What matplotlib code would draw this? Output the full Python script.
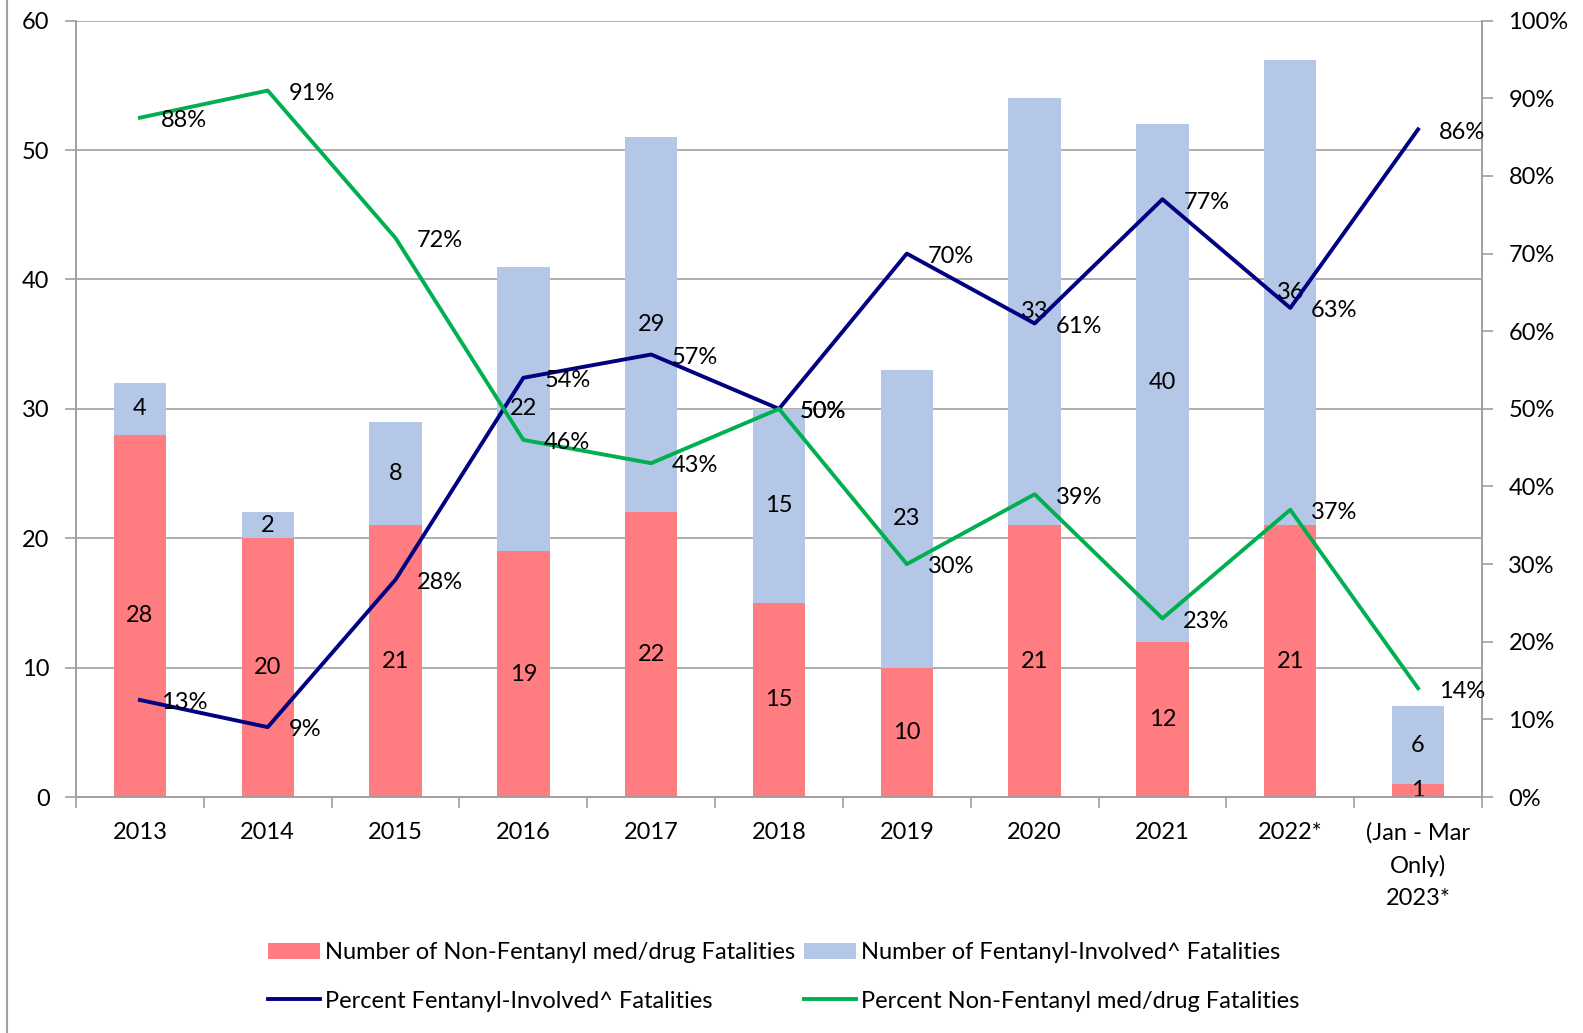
import matplotlib.pyplot as plt
import numpy as np
from matplotlib.lines import Line2D
from matplotlib.ticker import PercentFormatter, MultipleLocator

plt.rcParams['font.family'] = ['Lato', 'DejaVu Sans']

# data
years = ['2013', '2014', '2015', '2016', '2017', '2018', '2019', '2020', '2021', '2022*',
         '(Jan - Mar\nOnly)\n2023*']
non_fent = [28, 20, 21, 19, 22, 15, 10, 21, 12, 21, 1]
fent = [4, 2, 8, 22, 29, 15, 23, 33, 40, 36, 6]
pct_fent = [0.125, 0.09, 0.28, 0.54, 0.57, 0.50, 0.70, 0.61, 0.77, 0.63, 0.86]
pct_non = [0.875, 0.91, 0.72, 0.46, 0.43, 0.50, 0.30, 0.39, 0.23, 0.37, 0.14]
pct_fent_lbl = ['13%', '9%', '28%', '54%', '57%', '50%', '70%', '61%', '77%', '63%', '86%']
pct_non_lbl = ['88%', '91%', '72%', '46%', '43%', '50%', '30%', '39%', '23%', '37%', '14%']

red = '#FF7C80'
blue = '#B4C7E7'
navy = '#000080'
green = '#00B050'
grey = '#A0A0A0'
fs = 17

fig = plt.figure(figsize=(15.83, 10.33), dpi=100)
ax = fig.add_axes([76/1583, 1 - 797/1033, (1482-76)/1583, (797-20.7)/1033])
x = np.arange(len(years))
w = 0.41

b1 = ax.bar(x, non_fent, w, color=red, label='Number of Non-Fentanyl med/drug Fatalities', zorder=2)
b2 = ax.bar(x, fent, w, bottom=non_fent, color=blue,
            label='Number of Fentanyl-Involved^ Fatalities', zorder=2)
for i in range(len(x)):
    ax.text(x[i], non_fent[i] / 2, str(non_fent[i]), ha='center', va='center', fontsize=fs, zorder=5)
    ax.text(x[i], non_fent[i] + fent[i] / 2, str(fent[i]), ha='center', va='center', fontsize=fs, zorder=5)

ax.set_ylim(0, 60)
ax.set_xlim(-0.5, len(x) - 0.5)
ax.yaxis.set_major_locator(MultipleLocator(10))
ax.yaxis.grid(True, color=grey, linewidth=1.2, zorder=0)
ax.set_axisbelow(True)
ax.set_xticks(x)
ax.set_xticklabels(years, fontsize=fs, linespacing=1.65)
ax.set_xticks(np.arange(-0.5, len(x)), minor=True)
ax.tick_params(axis='x', which='major', length=0, pad=18)
ax.tick_params(axis='x', which='minor', length=8, color=grey, width=1.2)
ax.tick_params(axis='y', length=8, color=grey, width=1.2, labelsize=fs, pad=11)
for s in ['left', 'bottom', 'right']:
    ax.spines[s].set_color(grey)
    ax.spines[s].set_linewidth(1.2)
ax.spines['top'].set_visible(False)

ax2 = ax.twinx()
l1, = ax2.plot(x, pct_fent, color=navy, linewidth=2.8, label='Percent Fentanyl-Involved^ Fatalities')
l2, = ax2.plot(x, pct_non, color=green, linewidth=2.8, label='Percent Non-Fentanyl med/drug Fatalities')
for i in range(len(x)):
    ax2.annotate(pct_fent_lbl[i], (x[i], pct_fent[i]), xytext=(15, -2), textcoords='offset points',
                 ha='left', va='center', fontsize=fs)
    ax2.annotate(pct_non_lbl[i], (x[i], pct_non[i]), xytext=(15, -2), textcoords='offset points',
                 ha='left', va='center', fontsize=fs)
ax2.set_ylim(0, 1)
ax2.yaxis.set_major_locator(MultipleLocator(0.1))
ax2.yaxis.set_major_formatter(PercentFormatter(1.0, decimals=0))
ax2.tick_params(axis='y', length=8, color=grey, width=1.2, labelsize=fs, pad=11)
for s in ['left', 'bottom', 'right']:
    ax2.spines[s].set_color(grey)
    ax2.spines[s].set_linewidth(1.2)
ax2.spines['top'].set_visible(False)

fig.legend(handles=[b1, l1, b2, l2], ncol=2, loc='center', bbox_to_anchor=(0.495, 1 - 977/1033),
           frameon=False, fontsize=fs, handlelength=2.2, handletextpad=0.2, columnspacing=0.4,
           labelspacing=1.15)

fig.add_artist(Line2D([7/1583, 7/1583], [0, 1], color=grey, linewidth=1.5))

fig.savefig('out.png', dpi=100)
